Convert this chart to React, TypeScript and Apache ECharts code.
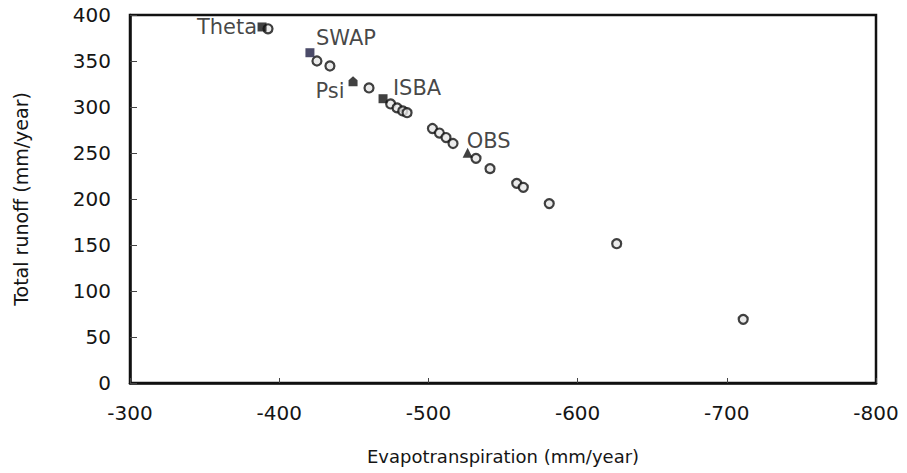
import React, { useEffect, useRef } from "react";
import * as echarts from "echarts";

// Simulated runs (open circles)
const runET = [-392.5, -425.3, -434, -460.2, -474.7, -479, -482.8, -485.7, -502.7, -507.4, -511.8, -516.5, -531.9, -541.3, -559.2, -563.6, -581, -626.2, -711];
const runRunoff = [385, 350, 344.6, 320.7, 303.3, 299, 295.7, 293.8, 276.6, 271.7, 266.8, 260.3, 244.2, 233, 217, 212.7, 195, 151.4, 69.2];

// Named models
const modelNames = ["Theta", "SWAP", "ISBA"];
const modelET = [-388.5, -420.6, -469.6];
const modelRunoff = [387, 359, 309];

const psiName = "Psi";
const psiET = -449.5;
const psiRunoff = 328;

const obsName = "OBS";
const obsET = -526.3;
const obsRunoff = 250.3;

const xTicks = [-300, -400, -500, -600, -700, -800];
const yTicks = [0, 50, 100, 150, 200, 250, 300, 350, 400];

const FONT = "DejaVu Sans";
const TXT = "#151515";

const modelOffsets: Record<string, number[]> = {
  Theta: [-35, 0],
  SWAP: [36, -15],
  ISBA: [34, -11],
};

export default function App() {
  const ref = useRef<HTMLDivElement>(null);
  useEffect(() => {
    if (!ref.current) return;
    const chart = echarts.init(ref.current, null, { renderer: "svg" });
    const lbl = (offset: number[]) => ({
      show: true,
      position: "inside",
      offset,
      formatter: "{b}",
      color: TXT,
      textBorderWidth: 0,
      textBorderColor: "transparent",
      fontFamily: FONT,
      fontSize: 21,
    });
    chart.setOption({
      animation: false,
      backgroundColor: "#fff",
      grid: {
        left: 130,
        right: 31,
        top: 15,
        bottom: 90,
        show: true,
        borderColor: "#111",
        borderWidth: 2.5,
        backgroundColor: "transparent",
      },
      xAxis: {
        type: "value",
        inverse: true,
        min: xTicks[xTicks.length - 1],
        max: xTicks[0],
        interval: 100,
        name: "Evapotranspiration (mm/year)",
        nameLocation: "middle",
        nameGap: 64,
        nameTextStyle: { color: TXT, fontFamily: FONT, fontSize: 18 },
        axisLine: { show: true, lineStyle: { color: "#111", width: 2.5 } },
        axisTick: { show: true, inside: true, length: 5, lineStyle: { color: "#444", width: 1 } },
        axisLabel: { color: TXT, fontFamily: FONT, fontSize: 20, margin: 20 },
        splitLine: { show: false },
      },
      yAxis: {
        type: "value",
        min: yTicks[0],
        max: yTicks[yTicks.length - 1],
        interval: 50,
        name: "Total runoff (mm/year)",
        nameLocation: "middle",
        nameGap: 100,
        nameTextStyle: { color: TXT, fontFamily: FONT, fontSize: 19 },
        axisLine: { show: true, lineStyle: { color: "#111", width: 2.5 } },
        axisTick: { show: true, inside: true, length: 7, lineStyle: { color: "#444", width: 1 } },
        axisLabel: { color: TXT, fontFamily: FONT, fontSize: 20, margin: 19 },
        splitLine: { show: false },
      },
      series: [
        {
          type: "scatter",
          symbol: "circle",
          symbolSize: 9,
          itemStyle: { color: "#e6e6e6", borderColor: "#111", borderWidth: 2.2 },
          data: runET.map((x, i) => [x, runRunoff[i]]),
          z: 2,
        },
        {
          type: "scatter",
          symbol: "rect",
          symbolSize: 9,
          itemStyle: { color: "#111" },
          data: modelNames.map((n, i) => ({
            name: n,
            value: [modelET[i], modelRunoff[i]],
            itemStyle: n === "SWAP" ? { color: "#1e1e44" } : undefined,
            label: lbl(modelOffsets[n]),
          })),
          z: 3,
        },
        {
          type: "scatter",
          symbol: "path://M0,4 L5,0 L10,4 L10,10 L0,10 Z",
          symbolSize: [9, 10],
          itemStyle: { color: "#111" },
          data: [{ name: psiName, value: [psiET, psiRunoff], label: lbl([-23, 10]) }],
          z: 3,
        },
        {
          type: "scatter",
          symbol: "triangle",
          symbolSize: 10,
          itemStyle: { color: "#111" },
          data: [{ name: obsName, value: [obsET, obsRunoff], label: lbl([21, -12]) }],
          z: 3,
        },
      ],
    });
    return () => chart.dispose();
  }, []);
  return (
    <div
      ref={ref}
      style={{ position: "fixed", left: 0, top: 0, width: 907, height: 473 }}
    />
  );
}
